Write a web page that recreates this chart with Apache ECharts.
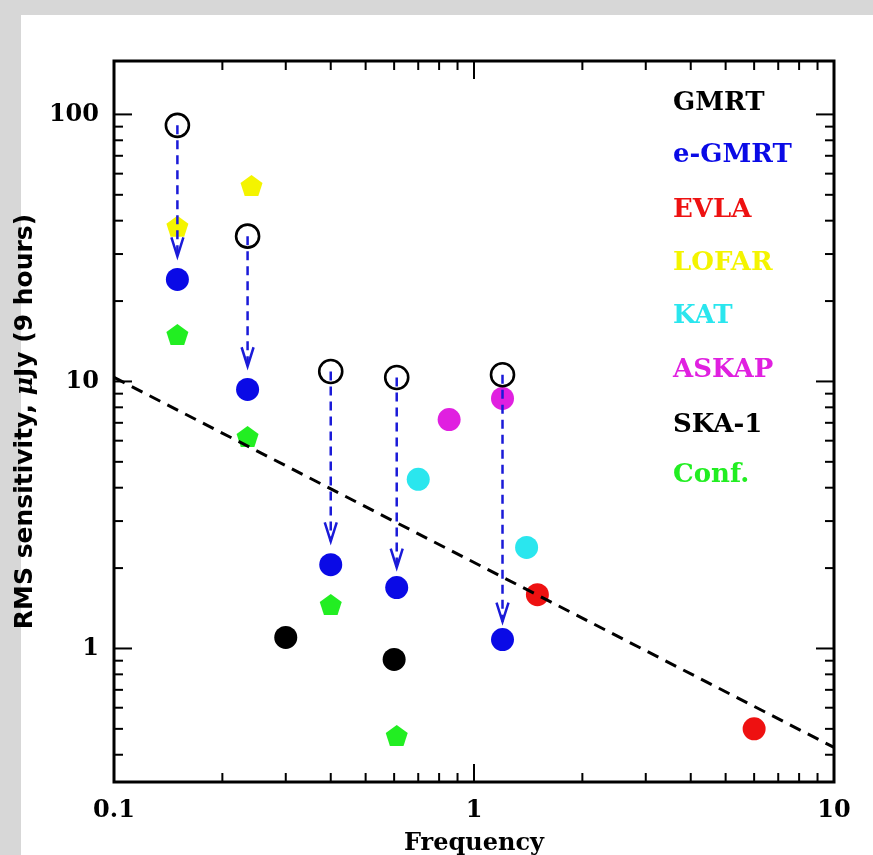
<!DOCTYPE html>
<html><head><meta charset="utf-8">
<script src="https://cdn.jsdelivr.net/npm/echarts@6/dist/echarts.min.js"></script>
<style>
html,body{margin:0;padding:0;background:#d7d7d7;width:873px;height:855px;overflow:hidden}
#panel{position:absolute;left:21px;top:15px;width:852px;height:840px;background:#fff}
#chart{position:absolute;left:0;top:0;width:873px;height:855px}
</style></head><body><div id="panel"></div><div id="chart"></div>
<script>
// ---- data ----
const gmrtFreq = [0.15, 0.235, 0.4, 0.61, 1.2];
const gmrtRms = [91, 35, 10.9, 10.35, 10.6];
const eGmrtFreq = [0.15, 0.235, 0.4, 0.61, 1.2];
const eGmrtRms = [24.1, 9.33, 2.06, 1.69, 1.08];
const arrowTipRms = [29.4, 11.4, 2.52, 2.01, 1.26];
const evlaFreq = [1.5, 6.0];
const evlaRms = [1.59, 0.50];
const lofarFreq = [0.15, 0.241];
const lofarRms = [38.1, 54.2];
const katFreq = [0.7, 1.4];
const katRms = [4.3, 2.39];
const askapFreq = [0.853, 1.2];
const askapRms = [7.2, 8.64];
const skaFreq = [0.3, 0.6];
const skaRms = [1.10, 0.91];
const confFreq = [0.15, 0.235, 0.4, 0.61];
const confRms = [15.0, 6.22, 1.46, 0.472];
const trendFreq = [0.1, 10];
const trendRms = [10.35, 0.426];
const xTicksMajor = [0.1, 1, 10];
const xTicksMinor = [0.2, 0.3, 0.4, 0.5, 0.6, 0.7, 0.8, 0.9, 2, 3, 4, 5, 6, 7, 8, 9];
const yTicksMajor = [1, 10, 100];
const yTicksMinor = [0.4, 0.5, 0.6, 0.7, 0.8, 0.9, 2, 3, 4, 5, 6, 7, 8, 9, 20, 30, 40, 50, 60, 70, 80, 90];
const xMin = 0.1, xMax = 10, yMin = 0.3162, yMax = 158.5;
const legendNames = ['GMRT', 'e-GMRT', 'EVLA', 'LOFAR', 'KAT', 'ASKAP', 'SKA-1', 'Conf.'];
const legendColors = ['#000000', '#0a0ae6', '#ee1111', '#f4f400', '#2ae6ee', '#e020e0', '#000000', '#22ee22'];

const SERIF = '"DejaVu Serif", serif';
const SANS = '"DejaVu Sans", sans-serif';
const pent = 'path://M0,-1L0.951,-0.309L0.588,0.809L-0.588,0.809L-0.951,-0.309Z';
const zip = (a, b) => a.map((v, i) => [v, b[i]]);

// tick items: [value, kind(1=x,2=y), major(1/0)]
const tickData = [];
xTicksMajor.forEach(v => tickData.push([v, 1, 1]));
xTicksMinor.forEach(v => tickData.push([v, 1, 0]));
yTicksMajor.forEach(v => tickData.push([v, 2, 1]));
yTicksMinor.forEach(v => tickData.push([v, 2, 0]));

const arrowData = eGmrtFreq.map((f, i) => [f, gmrtRms[i], arrowTipRms[i]]);

const chart = echarts.init(document.getElementById('chart'), null, {renderer: 'canvas'});
const isPow10 = v => Math.abs(Math.log10(v) - Math.round(Math.log10(v))) < 1e-6;
const dot = c => ({color: c, opacity: 1});

chart.setOption({
  animation: false,
  backgroundColor: 'transparent',
  grid: {left: 114, top: 61, width: 720, height: 721, show: true, borderColor: '#000', borderWidth: 3,
    backgroundColor: 'transparent', containLabel: false, outerBoundsMode: 'none'},
  xAxis: {
    type: 'log', min: xMin, max: xMax, logBase: 10,
    axisLine: {show: false}, axisTick: {show: false}, splitLine: {show: false}, minorTick: {show: false},
    axisLabel: {margin: 17, fontFamily: SERIF, fontWeight: 'bold', fontSize: 24, color: '#000',
      formatter: v => isPow10(v) ? String(+v.toPrecision(3)) : ''},
    name: 'Frequency', nameLocation: 'middle', nameGap: 50,
    nameTextStyle: {fontFamily: SERIF, fontWeight: 'bold', fontSize: 24, color: '#000'}
  },
  yAxis: {
    type: 'log', min: yMin, max: yMax, logBase: 10,
    axisLine: {show: false}, axisTick: {show: false}, splitLine: {show: false}, minorTick: {show: false},
    axisLabel: {margin: 15, fontFamily: SERIF, fontWeight: 'bold', fontSize: 24, color: '#000',
      formatter: v => isPow10(v) ? String(+v.toPrecision(3)) : ''},
    name: '{a|RMS sensitivity, }{b|μ}{a|Jy (9 hours)}', nameLocation: 'middle', nameGap: 66, nameRotate: 90,
    nameTextStyle: {
      rich: {
        a: {fontFamily: SANS, fontWeight: 'bold', fontSize: 25, color: '#000'},
        b: {fontFamily: SERIF, fontWeight: 'bold', fontStyle: 'italic', fontSize: 25, color: '#000'}
      }
    }
  },
  graphic: legendNames.map((n, i) => ({
    type: 'text', left: 673, top: [105, 157, 212, 265, 318, 372, 427, 477][i] - 15, z: 10,
    style: {text: n, fill: legendColors[i], font: 'bold 26px ' + SERIF}
  })),
  series: [
    {
      name: 'ticks', type: 'custom', data: tickData, z: 5, silent: true, clip: false,
      encode: {x: 0, y: 1},
      renderItem: (params, api) => {
        const v = api.value(0), kind = api.value(1), major = api.value(2);
        const cs = params.coordSys;
        const len = major ? 18 : 9;
        const st = {stroke: '#000', lineWidth: 2};
        if (kind === 1) {
          const px = api.coord([v, yMin])[0];
          return {type: 'group', children: [
            {type: 'line', shape: {x1: px, y1: cs.y + cs.height, x2: px, y2: cs.y + cs.height - len}, style: st},
            {type: 'line', shape: {x1: px, y1: cs.y, x2: px, y2: cs.y + len}, style: st}
          ]};
        }
        const py = api.coord([xMin, v])[1];
        return {type: 'group', children: [
          {type: 'line', shape: {x1: cs.x, y1: py, x2: cs.x + len, y2: py}, style: st},
          {type: 'line', shape: {x1: cs.x + cs.width, y1: py, x2: cs.x + cs.width - len, y2: py}, style: st}
        ]};
      }
    },
    {name: 'LOFAR', type: 'scatter', data: zip(lofarFreq, lofarRms), symbol: pent, symbolSize: [22, 21], itemStyle: dot('#f4f400'), z: 2},
    {name: 'Conf.', type: 'scatter', data: zip(confFreq, confRms), symbol: pent, symbolSize: [22, 21], itemStyle: dot('#22ee22'), z: 2},
    {name: 'e-GMRT', type: 'scatter', data: zip(eGmrtFreq, eGmrtRms), symbol: 'circle', symbolSize: 23, itemStyle: dot('#0a0ae6'), z: 2},
    {name: 'EVLA', type: 'scatter', data: zip(evlaFreq, evlaRms), symbol: 'circle', symbolSize: 23, itemStyle: dot('#ee1111'), z: 2},
    {name: 'KAT', type: 'scatter', data: zip(katFreq, katRms), symbol: 'circle', symbolSize: 23, itemStyle: dot('#2ae6ee'), z: 2},
    {name: 'ASKAP', type: 'scatter', data: zip(askapFreq, askapRms), symbol: 'circle', symbolSize: 23, itemStyle: dot('#e020e0'), z: 2},
    {name: 'SKA-1', type: 'scatter', data: zip(skaFreq, skaRms), symbol: 'circle', symbolSize: 23, itemStyle: dot('#000'), z: 2},
    {name: 'GMRT', type: 'scatter', data: zip(gmrtFreq, gmrtRms), symbol: 'circle', symbolSize: 23,
      itemStyle: {color: 'rgba(0,0,0,0)', borderColor: '#000', borderWidth: 2.6, opacity: 1}, z: 2},
    {
      name: 'trend', type: 'line', data: zip(trendFreq, trendRms), symbol: 'none', z: 4,
      lineStyle: {color: '#000', width: 3, type: [12, 8]}
    },
    {
      name: 'arrows', type: 'custom', data: arrowData, z: 4, encode: {x: 0, y: [1, 2]},
      renderItem: (params, api) => {
        const p0 = api.coord([api.value(0), api.value(1)]);
        const p1 = api.coord([api.value(0), api.value(2)]);
        const col = '#1a1ad8';
        return {type: 'group', children: [
          {type: 'line', shape: {x1: p0[0], y1: p0[1], x2: p1[0], y2: p1[1]}, style: {stroke: col, lineWidth: 2.5, lineDash: [9, 6]}},
          {type: 'polyline', shape: {points: [[p1[0] - 6, p1[1] - 19], [p1[0], p1[1]], [p1[0] + 6, p1[1] - 19]]},
            style: {stroke: col, lineWidth: 2.5, fill: null}}
        ]};
      }
    }
  ]
});
</script></body></html>
